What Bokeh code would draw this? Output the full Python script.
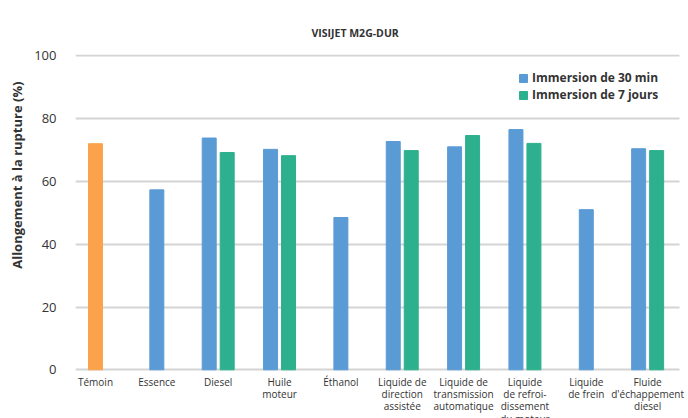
import numpy as np
from bokeh.plotting import figure
from bokeh.models import (ColumnDataSource, Range1d, FixedTicker, Legend, LegendItem, Title, Grid)
from bokeh.embed import file_html
from bokeh.resources import INLINE

# ---- data ----
categories = ["Témoin", "Essence", "Diesel", "Huile\nmoteur", "Éthanol",
              "Liquide de\ndirection\nassistée", "Liquide de\ntransmission\nautomatique",
              "Liquide\nde refroi-\ndissement\ndu moteur", "Liquide\nde frein",
              "Fluide\nd'échappement\ndiesel"]
temoin = [72.0, None, None, None, None, None, None, None, None, None]
immersion_30min = [None, 57.3, 73.8, 70.2, 48.5, 72.7, 71.0, 76.5, 51.0, 70.4]
immersion_7j = [None, None, 69.2, 68.2, None, 69.8, 74.6, 72.1, None, 69.8]
y_ticks = [0, 20, 40, 60, 80, 100]

title_text = "VISIJET M2G-DUR"
y_title = "Allongement à la rupture (%)"
series_names = ["Immersion de 30 min", "Immersion de 7 jours"]

BLUE = "#5b9bd5"
GREEN = "#2db08d"
ORANGE = "#fba34c"
FONT = "Open Sans"
TXT = "#333333"

idx = np.arange(len(categories), dtype=float)
a = np.array([np.nan if v is None else v for v in immersion_30min])
b = np.array([np.nan if v is None else v for v in immersion_7j])
t = np.array([np.nan if v is None else v for v in temoin])
both = ~np.isnan(a) & ~np.isnan(b)
off = 0.1466
bw = 0.228

src_a = ColumnDataSource(dict(x=(idx - np.where(both, off, 0))[~np.isnan(a)], top=a[~np.isnan(a)]))
src_b = ColumnDataSource(dict(x=(idx + np.where(both, off, 0))[~np.isnan(b)], top=b[~np.isnan(b)]))
src_t = ColumnDataSource(dict(x=idx[~np.isnan(t)], top=t[~np.isnan(t)]))

x_lo, x_hi = -0.326, 9.52
p = figure(width=688, height=418, output_backend="svg", toolbar_location=None,
           x_range=Range1d(x_lo, 9.666), y_range=Range1d(-15.5, 100.4),
           min_border_left=0, min_border_right=0, min_border_top=54, min_border_bottom=0,
           title=title_text)
p.outline_line_color = None
p.background_fill_color = "white"

p.title.align = "left"
p.title.offset = 236
p.title.text_font = FONT
p.title.text_font_size = "10.5px"
p.title.text_font_style = "bold"
p.title.text_color = TXT
p.title.standoff = 30

rt = p.vbar(x="x", top="top", width=bw, bottom=0, source=src_t, color=ORANGE)
ra = p.vbar(x="x", top="top", width=bw, bottom=0, source=src_a, color=BLUE)
rb = p.vbar(x="x", top="top", width=bw, bottom=0, source=src_b, color=GREEN)

# grid
p.xgrid.visible = False
p.ygrid.ticker = FixedTicker(ticks=y_ticks)
p.ygrid.grid_line_color = "#d4d4d4"
p.ygrid.grid_line_width = 2
p.ygrid.level = "underlay"
if "cross_bounds" in Grid.properties():
    p.ygrid.cross_bounds = (x_lo, x_hi)

# y axis
p.yaxis.ticker = FixedTicker(ticks=y_ticks)
p.yaxis.axis_line_color = None
p.yaxis.major_tick_line_color = None
p.yaxis.minor_tick_line_color = None
p.yaxis.major_tick_out = 0
p.yaxis.major_tick_in = 0
p.yaxis.major_label_text_font = FONT
p.yaxis.major_label_text_font_size = "13px"
p.yaxis.major_label_text_color = TXT
p.yaxis.major_label_standoff = 19

# y title as a side title
ytitle = Title(text=y_title, align="right", offset=27, text_font=FONT,
               text_font_size="13px", text_font_style="bold", text_color=TXT, standoff=11)
p.add_layout(ytitle, "left")

# x axis, drawn at y = 0 inside the frame
p.xaxis.fixed_location = 0
p.xaxis.ticker = FixedTicker(ticks=list(idx))
p.xaxis.major_label_overrides = {int(i): c for i, c in zip(idx, categories)}
p.xaxis.axis_line_color = None
p.xaxis.major_tick_line_color = None
p.xaxis.minor_tick_line_color = None
p.xaxis.major_tick_out = 0
p.xaxis.major_tick_in = 0
p.xaxis.major_label_text_font = FONT
p.xaxis.major_label_text_font_size = "10px"
p.xaxis.major_label_text_line_height = 0.88
p.xaxis.major_label_text_color = TXT
p.xaxis.major_label_standoff = 5

legend = Legend(items=[LegendItem(label=series_names[0], renderers=[ra]),
                       LegendItem(label=series_names[1], renderers=[rb])],
                location=(443, 315))
legend.label_text_font = FONT
legend.label_text_font_size = "12px"
legend.label_text_font_style = "bold"
legend.label_text_color = TXT
legend.glyph_width = 10
legend.glyph_height = 10
legend.label_height = 10
legend.spacing = 0
legend.padding = 0
legend.margin = 0
legend.label_standoff = 4
legend.border_line_color = None
legend.background_fill_alpha = 0
p.add_layout(legend, "center")

open("out.html", "w").write(file_html(p, INLINE))
